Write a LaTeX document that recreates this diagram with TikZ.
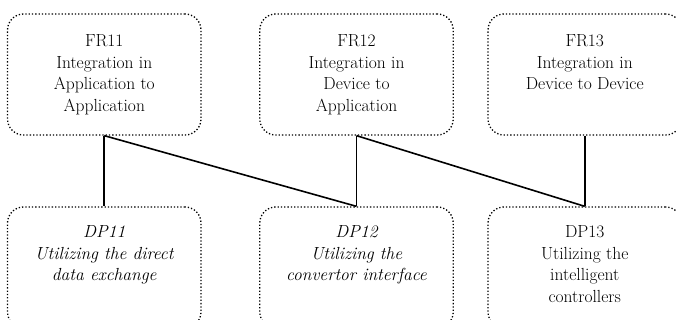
\documentclass[tikz,border=0pt]{standalone}
\begin{document}
\begin{tikzpicture}[x=1pt,y=-1pt,
  box/.style={draw, dotted, line width=1.3pt, rounded corners=16pt,
    minimum width=193.5pt, minimum height=121pt, inner sep=0pt},
  txt/.style={anchor=north, align=center, inner sep=0pt,
    font=\fontsize{17.5}{21.7}\selectfont},
  itxt/.style={txt, font=\fontsize{17.5}{21.7}\selectfont\itshape},
  link/.style={line width=1.6pt}]
\useasboundingbox (0,0) rectangle (676,320);

% functional requirements (top row)
\node[box] (fr11) at (104.25,74.5) {};
\node[box] (fr12) at (356.5,74.5) {};
\node[box] (fr13) at (584.75,74.5) {};

% design parameters (bottom row)
\node[box] (dp11) at (104.25,267.5) {};
\node[box] (dp12) at (356.5,267.5) {};
\node[box] (dp13) at (584.75,267.5) {};

% box texts
\node[txt] (fr11t) at ([yshift=-21pt]fr11.north) {FR11\\Integration in\\Application to\\Application};
\node[txt] (fr12t) at ([yshift=-21pt]fr12.north) {FR12\\Integration in\\Device to\\Application};
\node[txt] (fr13t) at ([yshift=-21pt]fr13.north) {FR13\\Integration in\\Device to Device};
\node[itxt] (dp11t) at ([yshift=-19pt]dp11.north) {DP11\\Utilizing the direct\\data exchange};
\node[itxt] (dp12t) at ([yshift=-19pt]dp12.north) {DP12\\Utilizing the\\convertor interface};
\node[txt] (dp13t) at ([yshift=-19pt]dp13.north) {DP13\\Utilizing the\\intelligent\\controllers};

% design matrix links
\draw[link] (fr11.south) -- (dp11.north);
\draw[link] (fr11.south) -- (dp12.north);
\draw[link] (fr12.south) -- (dp12.north);
\draw[link] (fr12.south) -- (dp13.north);
\draw[link] (fr13.south) -- (dp13.north);
\end{tikzpicture}
\end{document}
